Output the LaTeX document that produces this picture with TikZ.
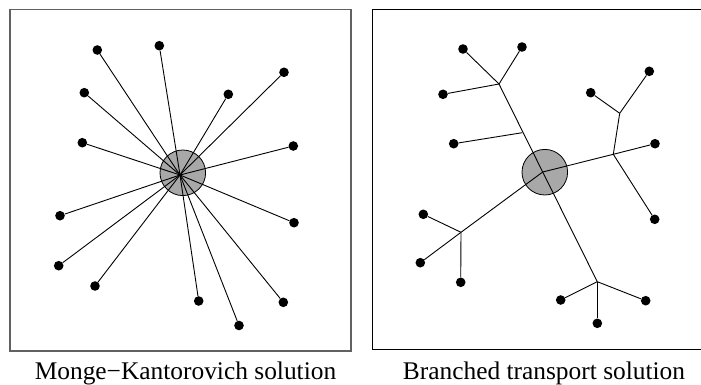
\documentclass[tikz,border=0pt]{standalone}
\usepackage{fontspec}
\setmainfont{Liberation Serif}
\begin{document}
\begin{tikzpicture}[x=1pt,y=-1pt,
  blackdot/.style={circle,fill=black,inner sep=0pt,minimum size=9.6pt},
  srcdisk/.style={circle,draw=black,line width=0.8pt,fill=black!34,inner sep=0pt,minimum size=45.6pt},
  link/.style={line width=0.9pt},
  captext/.style={anchor=base,font=\fontsize{25.4}{30}\selectfont}]
\useasboundingbox (0,0) rectangle (701,385);
% frames
\draw[line width=1.4pt,black!62] (10,9.5) rectangle (351,351);
\draw[line width=1.1pt,black] (372.5,9.5) rectangle (705,349.5);
% ---------- left: Monge-Kantorovich ----------
\node[srcdisk] (s1) at (182.8,172.8) {};
\coordinate (c1) at (180,175);
\foreach \n/\x/\y in {1/97.3/50,2/159.3/45.7,3/284/72.3,4/228.3/94.3,5/84.3/92.7,
  6/82.3/142.7,7/293.3/146,8/60/215.7,9/294/222.7,10/58.7/265.7,11/95/286,
  12/198.7/301,13/283.3/302.3,14/239/325.5}{
  \node[blackdot] (m\n) at (\x,\y) {};
  \draw[link] (c1) -- (m\n);
}
% ---------- right: branched transport ----------
\node[srcdisk] (s2) at (544.8,172.2) {};
\coordinate (o) at (542.7,172);
\coordinate (jA) at (499,84);
\coordinate (jS) at (522.3,132.7);
\coordinate (jB) at (613.3,154.3);
\coordinate (jC) at (619.7,113.3);
\coordinate (jD) at (461,232.3);
\coordinate (jE) at (597.3,281.7);
\node[blackdot] (a1) at (463,49) {};
\node[blackdot] (a2) at (522,47) {};
\node[blackdot] (a3) at (443,94.3) {};
\node[blackdot] (sd) at (453.7,143.7) {};
\node[blackdot] (b1) at (655,143.7) {};
\node[blackdot] (b2) at (654.7,219.3) {};
\node[blackdot] (c1d) at (590.7,92.7) {};
\node[blackdot] (c2d) at (649.3,71.3) {};
\node[blackdot] (d1) at (423.3,214.3) {};
\node[blackdot] (d2) at (420.3,262.7) {};
\node[blackdot] (d3) at (460.7,282.3) {};
\node[blackdot] (e1) at (560.7,300) {};
\node[blackdot] (e2) at (645.7,300.7) {};
\node[blackdot] (e3) at (597.3,323.3) {};
\draw[link] (jA) -- (o) -- (jE);
\draw[link] (o) -- (jB);
\draw[link] (o) -- (jD);
\draw[link] (jA) -- (a1);
\draw[link] (jA) -- (a2);
\draw[link] (jA) -- (a3);
\draw[link] (jS) -- (sd);
\draw[link] (jB) -- (b1);
\draw[link] (jB) -- (b2);
\draw[link] (jB) -- (jC);
\draw[link] (jC) -- (c1d);
\draw[link] (jC) -- (c2d);
\draw[link] (jD) -- (d1);
\draw[link] (jD) -- (d2);
\draw[link] (jD) -- (d3);
\draw[link] (jE) -- (e1);
\draw[link] (jE) -- (e2);
\draw[link] (jE) -- (e3);
% captions
\node[captext] (t1) at (185.5,379) {Monge−Kantorovich solution};
\node[captext] (t2) at (544,379) {Branched transport solution};
\end{tikzpicture}
\end{document}
